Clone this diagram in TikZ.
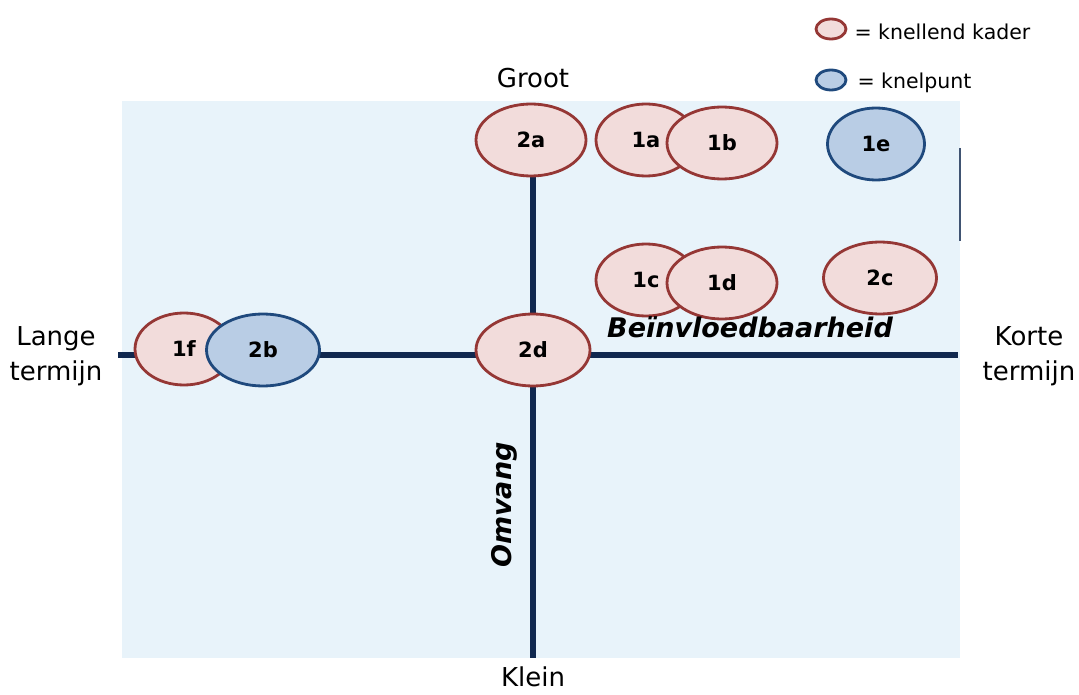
\documentclass[tikz,border=0pt]{standalone}
\usepackage{fontspec}
\setmainfont{DejaVu Sans}
\usetikzlibrary{shapes.geometric}

\definecolor{kaderfill}{HTML}{F2DCDB}
\definecolor{kaderline}{HTML}{953735}
\definecolor{puntfill}{HTML}{B9CDE5}
\definecolor{puntline}{HTML}{1F497D}
\definecolor{veld}{HTML}{E8F3FA}
\definecolor{asblauw}{HTML}{10284F}

\tikzset{
  kader/.style={ellipse, draw=kaderline, fill=kaderfill, line width=2.8pt,
    minimum width=110pt, minimum height=72pt, inner sep=0pt,
    font=\fontsize{21}{23}\selectfont\bfseries},
  punt/.style={kader, draw=puntline, fill=puntfill},
  mini/.style={ellipse, line width=2.8pt, minimum width=30pt, minimum height=20pt, inner sep=0pt},
  as/.style={draw=asblauw, line width=6pt},
  etiket/.style={font=\fontsize{26}{35}\selectfont, align=center},
}

\begin{document}
\begin{tikzpicture}[x=1pt, y=-1pt]
    \useasboundingbox (0,0) rectangle (1079,695);
    % field
    \fill[veld] (122,101) rectangle (960,658);
    \draw[asblauw!80, line width=2pt] (960,148) -- (960,241);

    % axes
    \coordinate (links) at (118,355);
    \coordinate (rechts) at (958,355);
    \coordinate (onder) at (533,658);
    \coordinate (boven) at (533,170);
    \draw[as] (links) -- (rechts);
    \draw[as] (boven) -- (onder);

    % points
    \node[kader] (2a) at (531,140) {2a};
    \node[kader, minimum width=100pt] (1a) at (646,140) {1a};
    \node[kader] (1b) at (722,143) {1b};
    \node[punt, minimum width=97pt] (1e) at (876,144) {1e};
    \node[kader, minimum width=100pt] (1c) at (646,280) {1c};
    \node[kader] (1d) at (722,283) {1d};
    \node[kader, minimum width=113pt] (2c) at (880,278) {2c};
    \node[kader, minimum width=98pt] (1f) at (184,349) {1f};
    \node[punt, minimum width=113pt] (2b) at (263,350) {2b};
    \node[kader, minimum width=114pt] (2d) at (533,350) {2d};

    % labels
    \node[etiket] (groot) at (533,78) {Groot};
    \node[etiket, anchor=base, inner sep=0pt] (klein) at (533,686) {Klein};
    \node[etiket] (lang) at (56,356) {Lange\\termijn};
    \node[etiket] (kort) at (1029,356) {Korte\\termijn};
    \node[font=\fontsize{27}{32}\selectfont\bfseries\itshape] (beinv) at (750,327) {Beïnvloedbaarheid};
    \node[font=\fontsize{27}{32}\selectfont\bfseries\itshape, rotate=90] (omvang) at (504,505) {Omvang};

    % legend
    \node[mini, draw=kaderline, fill=kaderfill] (lk) at (831,29) {};
    \node[mini, draw=puntline, fill=puntfill] (lp) at (831,80) {};
    \node[right, font=\fontsize{20.5}{24}\selectfont] (tk) at (851,32) {= knellend kader};
    \node[right, font=\fontsize{20.5}{24}\selectfont] (tp) at (854,83) {= knelpunt};
\end{tikzpicture}
\end{document}
